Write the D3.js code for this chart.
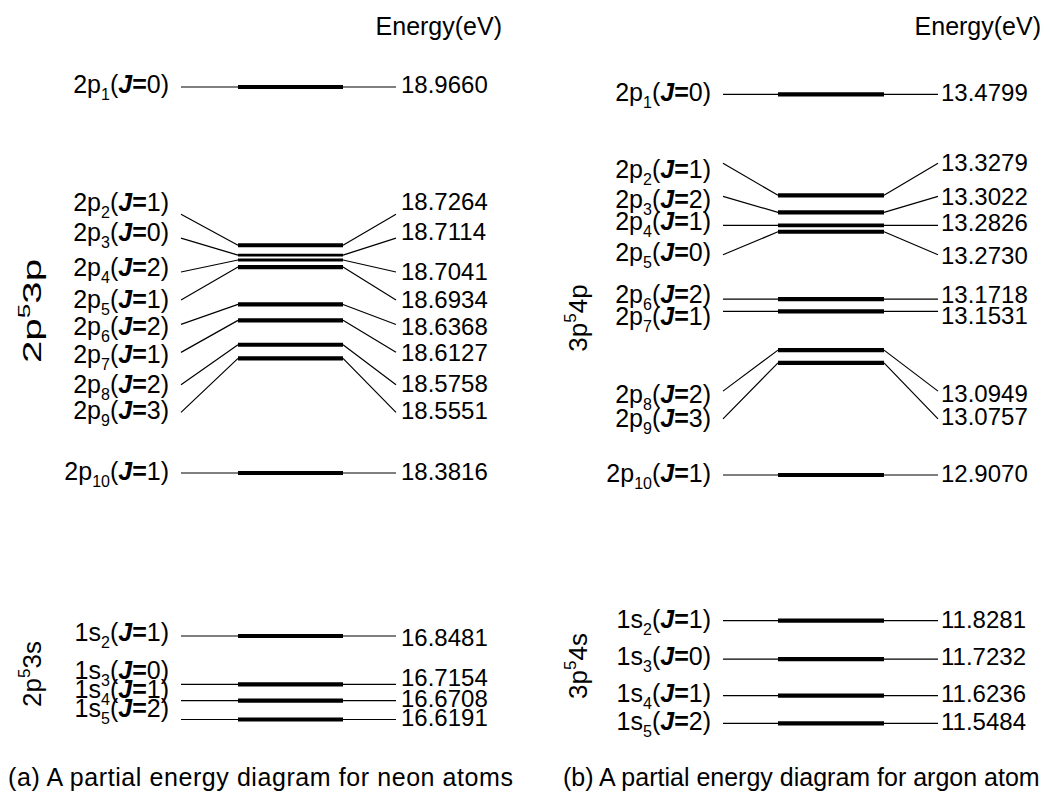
<!DOCTYPE html>
<html>
<head>
<meta charset="utf-8">
<script src="https://cdn.jsdelivr.net/npm/d3@7"></script>
<style>
  html, body { margin: 0; padding: 0; background: #fff; }
  svg { display: block; }
  text { font-family: Arial, "Liberation Sans", sans-serif; fill: #000; }
</style>
</head>
<body>
<svg id="chart" width="1046" height="794"></svg>
<script>
// ---------------- DATA ----------------
// Neon 2p^5 3p levels (Paschen notation 2p1..2p10)
const neonPSub    = ["1","2","3","4","5","6","7","8","9","10"];
const neonPJ      = [0, 1, 0, 2, 1, 2, 1, 2, 3, 1];
const neonPEnergy = [18.9660, 18.7264, 18.7114, 18.7041, 18.6934, 18.6368, 18.6127, 18.5758, 18.5551, 18.3816];
// Neon 2p^5 3s levels (1s2..1s5)
const neonSSub    = ["2","3","4","5"];
const neonSJ      = [1, 0, 1, 2];
const neonSEnergy = [16.8481, 16.7154, 16.6708, 16.6191];
// Argon 3p^5 4p levels
const argonPSub    = ["1","2","3","4","5","6","7","8","9","10"];
const argonPJ      = [0, 1, 2, 1, 0, 2, 1, 2, 3, 1];
const argonPEnergy = [13.4799, 13.3279, 13.3022, 13.2826, 13.2730, 13.1718, 13.1531, 13.0949, 13.0757, 12.9070];
// Argon 3p^5 4s levels
const argonSSub    = ["2","3","4","5"];
const argonSJ      = [1, 0, 1, 2];
const argonSEnergy = [11.8281, 11.7232, 11.6236, 11.5484];

const headerText = "Energy(eV)";
const captions = ["(a) A partial energy diagram for neon atoms", "(b) A partial energy diagram for argon atom"];

// ---------------- LAYOUT ----------------
const FONT = 25, VAL_FONT = 24, SUB_FONT = 16, SUB_DY = 7;
const panels = [
  {
    x: { label: 169, connL: 181, barL: 238, barR: 343, connR: 396, value: 401, header: 502, group: 41 },
    caption: { x: 8, len: 505 },
    groups: [
      { base: "2p", sub: neonPSub, J: neonPJ, E: neonPEnergy, range: [473, 87],
        title: ["2p", "5", "3p"], titleY: 311, titleLen: 104,
        shift:   [0, -31, -17, 12, 33, 20, 32, 40, 54, 0],
        textDyL: [6, -3, 3, 4, 8, 11, 11, 8, 7, 7],
        textDyR: [6, -4, 2, 8, 8, 11, 9, 7, 7, 7] },
      { base: "1s", sub: neonSSub, J: neonSJ, E: neonSEnergy, range: [719.5, 636],
        title: ["2p", "5", "3s"], titleY: 674, titleLen: null,
        shift:   [0, 0, 0, 0],
        textDyL: [5, -5, -3, -3],
        textDyR: [10, 2, 6, 6.5] }
    ]
  },
  {
    x: { label: 711, connL: 723, barL: 778, barR: 884, connR: 938, value: 941, header: 1041, group: 587 },
    caption: { x: 563, len: null },
    groups: [
      { base: "2p", sub: argonPSub, J: argonPJ, E: argonPEnergy, range: [475, 94.3],
        title: ["3p", "5", "4p"], titleY: 318, titleLen: null,
        shift:   [0, -32, -16, 0, 23, 0, 0, 41, 56, 0],
        textDyL: [7, 15, 12, 5, 6, 4, 14, 12, 8, 7],
        textDyR: [7, 8, 9, 6, 9, 4, 13, 11, 6, 7] },
      { base: "1s", sub: argonSSub, J: argonSJ, E: argonSEnergy, range: [723.3, 620.7],
        title: ["3p", "5", "4s"], titleY: 666, titleLen: null,
        shift:   [0, 0, 0, 0],
        textDyL: [7, 6, 6, 7],
        textDyR: [7, 6, 6, 7] }
    ]
  }
];

// ---------------- DRAW ----------------
const svg = d3.select("#chart");
const fmt = d3.format(".4f");

function levelLabel(t, base, sub, J) {
  t.append("tspan").text(base);
  t.append("tspan").attr("font-size", SUB_FONT).attr("dy", SUB_DY).text(sub);
  t.append("tspan").attr("dy", -SUB_DY).text("(");
  t.append("tspan").attr("font-weight", "bold").attr("font-style", "italic").text("J");
  t.append("tspan").attr("font-weight", "bold").text("=");
  t.append("tspan").text(J + ")");
}

panels.forEach((panel, pi) => {
  const X = panel.x;
  const g = svg.append("g");

  g.append("text")
    .attr("x", X.header).attr("y", 35)
    .attr("text-anchor", "end").attr("font-size", 25)
    .text(headerText);

  panel.groups.forEach(grp => {
    const y = d3.scaleLinear()
      .domain([d3.min(grp.E), d3.max(grp.E)])
      .range(grp.range);
    const ys = grp.E.map(e => y(e));
    const levels = grp.E.map((e, i) => {
      const others = ys.filter((v, j) => j !== i).map(v => Math.abs(v - ys[i]));
      const gap = others.length ? d3.min(others) : 100;
      return {
        i, e, by: ys[i],
        end: ys[i] + grp.shift[i],
        w: Math.min(4.2, gap * 0.6)
      };
    });

    const lg = g.append("g");
    // connectors
    lg.selectAll("path.conn").data(levels).join("path")
      .attr("class", "conn")
      .attr("fill", "none").attr("stroke", "#000").attr("stroke-width", 1.2)
      .attr("d", d => `M${X.connL},${d.end}L${X.barL},${d.by}M${X.barR},${d.by}L${X.connR},${d.end}`);
    // level bars
    lg.selectAll("line.bar").data(levels).join("line")
      .attr("class", "bar")
      .attr("x1", X.barL).attr("x2", X.barR)
      .attr("y1", d => d.by).attr("y2", d => d.by)
      .attr("stroke", "#000").attr("stroke-width", d => d.w);
    // left labels
    lg.selectAll("text.lab").data(levels).join("text")
      .attr("class", "lab")
      .attr("x", X.label).attr("y", d => d.end + grp.textDyL[d.i])
      .attr("text-anchor", "end").attr("font-size", FONT)
      .each(function(d) { levelLabel(d3.select(this), grp.base, grp.sub[d.i], grp.J[d.i]); });
    // right values
    lg.selectAll("text.val").data(levels).join("text")
      .attr("class", "val")
      .attr("x", X.value).attr("y", d => d.end + grp.textDyR[d.i])
      .attr("font-size", VAL_FONT)
      .text(d => fmt(d.e));

    // rotated configuration label
    const tt = g.append("text")
      .attr("transform", `translate(${X.group},${grp.titleY}) rotate(-90)`)
      .attr("text-anchor", "middle").attr("font-size", 26);
    if (grp.titleLen) tt.attr("textLength", grp.titleLen).attr("lengthAdjust", "spacingAndGlyphs");
    tt.append("tspan").text(grp.title[0]);
    tt.append("tspan").attr("font-size", 17).attr("dy", -11).text(grp.title[1]);
    tt.append("tspan").attr("dy", 11).text(grp.title[2]);
  });

  const cap = g.append("text")
    .attr("x", panel.caption.x).attr("y", 786)
    .attr("font-size", 25)
    .text(captions[pi]);
  if (panel.caption.len) cap.attr("textLength", panel.caption.len).attr("lengthAdjust", "spacing");
});
</script>
</body>
</html>
